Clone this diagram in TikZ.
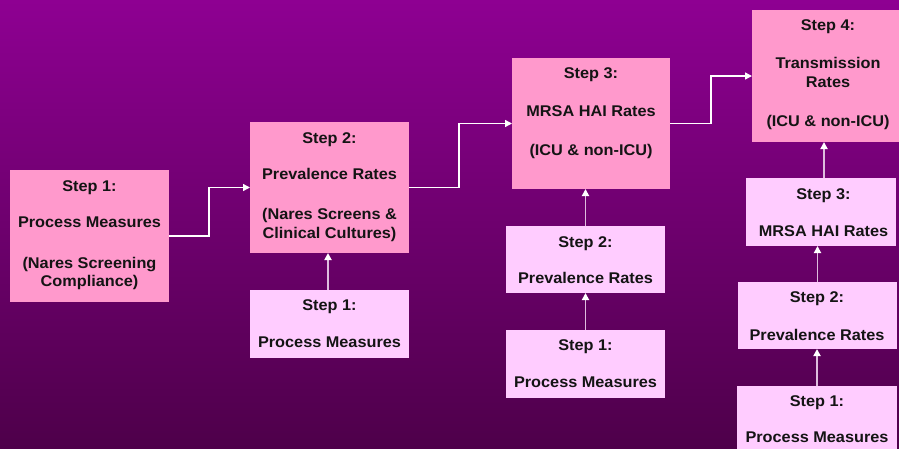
\documentclass[tikz,border=0pt]{standalone}
\usepackage{fontspec}
\setmainfont{Liberation Sans}[FakeStretch=1.05]
\usetikzlibrary{arrows.meta,calc}
\definecolor{bgtop}{RGB}{142,0,146}
\definecolor{bgbot}{RGB}{78,0,74}
\definecolor{stepdark}{RGB}{255,153,204}
\definecolor{steplight}{RGB}{255,204,255}
\definecolor{risecol}{RGB}{222,188,222}
\begin{document}
\begin{tikzpicture}[x=1pt,y=-1pt,
  stepbox/.style={inner sep=0pt,outer sep=0pt,anchor=north west},
  bigbox/.style={stepbox,fill=stepdark},
  smallbox/.style={stepbox,fill=steplight},
  steptext/.style={anchor=north,inner sep=0pt,align=center,text=black!92,
    font=\fontsize{15.5}{18.5}\selectfont\bfseries},
  flow/.style={draw=white,line width=1.4pt,-{Triangle[length=7pt,width=7pt]}},
  rise/.style={draw=risecol,line width=1.8pt,-{Triangle[length=7pt,width=7pt,color=white]}}
]
\useasboundingbox (0,0) rectangle (899,448);
\shade[top color=bgtop,bottom color=bgbot] (0,0) rectangle (899,448);

% chain 1
\node[bigbox,minimum width=159pt,minimum height=132pt] (A) at (10,170) {};
\node[steptext] (Atxt) at (89.5,180)
  {Step 1:\\[17.5pt]Process Measures\\[22.5pt](Nares Screening\\Compliance)};

% chain 2
\node[bigbox,minimum width=159pt,minimum height=131pt] (B) at (250,122) {};
\node[steptext] (Btxt) at (329.5,132)
  {Step 2:\\[18pt]Prevalence Rates\\[21.5pt](Nares Screens \&\\Clinical Cultures)};
\node[smallbox,minimum width=159pt,minimum height=68pt] (B1) at (250,290) {};
\node[steptext] (B1txt) at (329.5,299.5) {Step 1:\\[18.5pt]Process Measures};

% chain 3
\node[bigbox,minimum width=158pt,minimum height=131pt] (C) at (512,58) {};
\node[steptext] (Ctxt) at (591,67)
  {Step 3:\\[20pt]MRSA HAI Rates\\[20.5pt](ICU \& non-ICU)};
\node[smallbox,minimum width=159pt,minimum height=67pt] (C2) at (506,226) {};
\node[steptext] (C2txt) at (585.5,236) {Step 2:\\[18pt]Prevalence Rates};
\node[smallbox,minimum width=159pt,minimum height=68pt] (C1) at (506,330) {};
\node[steptext] (C1txt) at (585.5,339.5) {Step 1:\\[18pt]Process Measures};

% chain 4
\node[bigbox,minimum width=152pt,minimum height=132pt] (D) at (752,10) {};
\node[steptext] (Dtxt) at (828,19)
  {Step 4:\\[20pt]Transmission\\Rates\\[20.5pt](ICU \& non-ICU)};
\node[smallbox,minimum width=150pt,minimum height=68pt] (D3) at (746,178) {};
\node[steptext] (D3txt) at (823.5,188) {Step 3:\\[19pt]MRSA HAI Rates};
\node[smallbox,minimum width=159pt,minimum height=67pt] (D2) at (738,282) {};
\node[steptext] (D2txt) at (817,291) {Step 2:\\[20pt]Prevalence Rates};
\node[smallbox,minimum width=160pt,minimum height=70pt] (D1) at (737,386) {};
\node[steptext] (D1txt) at (817,395) {Step 1:\\[18pt]Process Measures};

% stepped connectors between the main steps
\draw[flow] (A.east) -- ++(40,0) |- (B.west);
\draw[flow] (B.east) -- ++(50,0) |- (C.west);
\draw[flow] (C.east) -- ++(41,0) |- (D.west);

% feeding connectors from the sub-steps
\draw[rise] ($(B1.north)+(-1.5,0)$) -- ($(B.south)+(-1.5,0)$);
\draw[rise] (C1.north) -- (C2.south);
\draw[rise] (C2.north) -- (C2.north |- C.south);
\draw[rise] (D1.north) -- (D1.north |- D2.south);
\draw[rise] (D2.north) -- (D2.north |- D3.south);
\draw[rise] ($(D3.north)+(3,0)$) -- ($(D3.north |- D.south)+(3,0)$);
\end{tikzpicture}
\end{document}
